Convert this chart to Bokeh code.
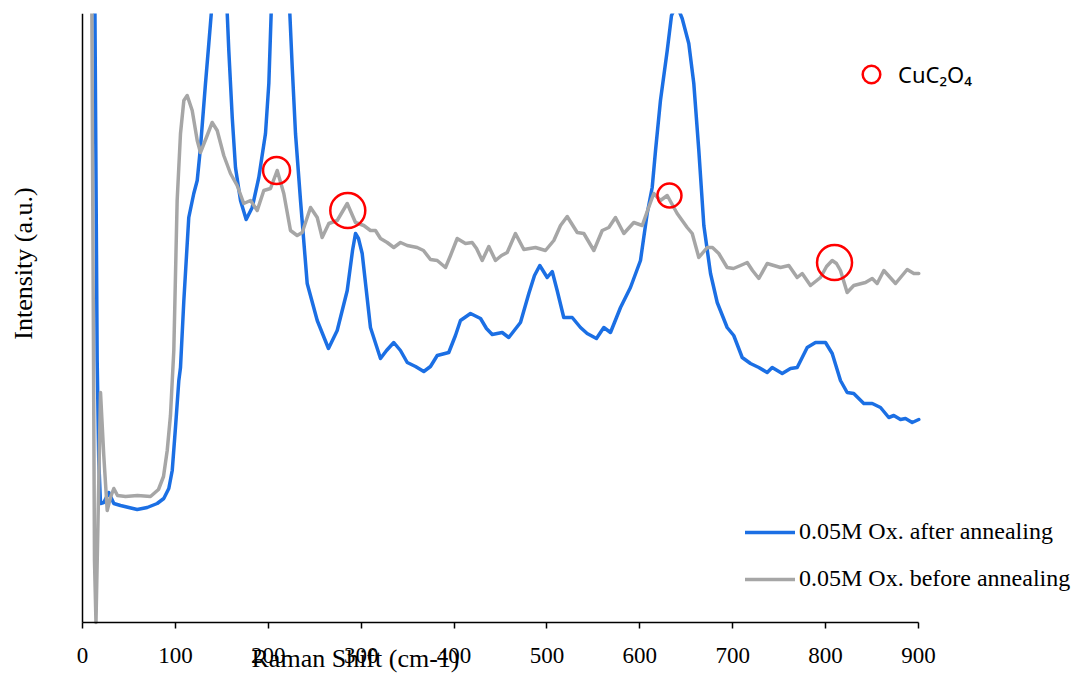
from bokeh.plotting import figure
from bokeh.models import Range1d, Label, Legend, LegendItem, FixedTicker
from bokeh.embed import file_html
from bokeh.resources import INLINE

# Raman shift (cm-1) and intensity (a.u.)
shift_after = [12.9, 15.8, 17.5, 19.4, 22.9, 28.3, 33.7, 40.9, 49.8, 58.9, 69.7, 80.4, 87.5, 92.9,
               96.6, 100.1, 103.7, 105.5, 109.1, 114.4, 119.8, 123.5, 127.0, 132.4, 136.0, 138.9,
               142.1, 147.0, 151.8, 155.8, 157.5, 161.2, 164.7, 170.1, 176.2, 182.7, 189.8, 197.0,
               200.6, 203.1, 206.7, 213.2, 219.6, 223.2, 225.8, 229.3, 234.7, 241.9, 252.7, 264.8,
               274.2, 285.0, 290.7, 293.9, 297.1, 301.1, 310.0, 320.8, 327.3, 335.1, 342.3, 349.6,
               358.5, 367.4, 374.6, 381.9, 394.3, 401.5, 406.9, 417.7, 428.5, 434.9, 441.1, 451.8,
               458.9, 471.5, 480.5, 486.6, 492.3, 500.3, 505.7, 511.0, 518.1, 527.2, 536.1, 543.3,
               553.3, 561.2, 568.4, 579.2, 589.9, 600.7, 607.9, 613.3, 616.9, 622.2, 629.5, 634.1,
               639.5, 645.6, 652.7, 658.1, 663.5, 668.9, 676.1, 683.3, 694.0, 701.1, 710.2, 719.1,
               728.1, 737.1, 742.5, 753.3, 762.2, 769.4, 780.2, 789.1, 799.9, 807.1, 816.0, 823.2,
               830.3, 841.1, 850.2, 859.1, 868.0, 873.4, 880.6, 886.0, 893.2, 900.3]
intensity_after = [682, 262, 162, 119, 120, 130, 119, 117, 115, 113, 115, 119, 124, 134,
                   152, 195, 242, 255, 322, 405, 429, 442, 475, 539, 579, 612,
                   667, 692, 667, 609, 572, 505, 455, 422, 403, 415, 445, 489,
                   539, 609, 672, 697, 672, 609, 555, 489, 422, 339, 302, 274,
                   292, 332, 372, 389, 384, 369, 295, 264, 272, 280, 272, 260,
                   256, 251, 256, 267, 270, 287, 302, 309, 304, 294, 288, 290,
                   285, 300, 329, 347, 357, 345, 351, 332, 305, 305, 295, 289,
                   284, 295, 290, 315, 335, 362, 409, 435, 472, 522, 572, 607,
                   618, 604, 579, 539, 472, 397, 349, 320, 295, 287, 265, 259,
                   255, 250, 255, 249, 254, 255, 275, 280, 280, 269, 242, 230,
                   229, 219, 219, 215, 205, 207, 203, 204, 200, 203]

shift_before = [9.7, 11.3, 12.9, 14.5, 16.7, 19.4, 22.9, 26.6, 30.1, 33.7, 37.7, 46.3, 59.2, 73.2,
                81.8, 87.2, 91.2, 94.7, 98.3, 101.9, 105.5, 109.1, 112.7, 118.1, 123.5, 127.0,
                134.2, 139.6, 145.0, 152.1, 159.3, 166.5, 173.6, 180.9, 188.1, 195.2, 202.4, 209.6,
                216.7, 223.9, 231.1, 236.5, 245.5, 252.7, 258.0, 265.2, 274.2, 285.0, 293.9, 302.8,
                310.0, 315.4, 320.8, 328.0, 335.1, 342.3, 349.6, 360.3, 367.1, 374.6, 381.9, 390.8,
                396.2, 403.4, 412.3, 419.5, 424.2, 430.3, 437.4, 444.6, 451.1, 457.2, 466.1, 475.1,
                487.7, 498.4, 507.4, 514.6, 521.8, 532.6, 539.7, 550.5, 559.5, 566.6, 573.8, 582.8,
                593.5, 602.6, 608.3, 615.0, 622.2, 629.5, 640.2, 651.0, 656.4, 663.5, 672.5, 678.2,
                685.0, 694.0, 700.8, 708.4, 715.6, 721.3, 728.1, 737.1, 751.4, 760.4, 769.4, 774.8,
                783.7, 794.5, 801.0, 807.1, 811.7, 816.0, 823.2, 830.3, 842.9, 850.2, 855.5, 862.7,
                875.3, 887.8, 895.0, 900.3]
intensity_before = [682, 372, 62, 0, 102, 230, 167, 112, 125, 134, 127, 126, 127, 126,
                    133, 146, 172, 207, 272, 422, 489, 522, 527, 512, 482, 470,
                    487, 500, 492, 467, 449, 437, 419, 422, 412, 432, 434, 452,
                    429, 392, 387, 390, 415, 405, 385, 399, 402, 419, 400, 397,
                    392, 392, 384, 380, 375, 380, 377, 375, 372, 363, 362, 355,
                    367, 384, 379, 380, 374, 362, 376, 362, 367, 370, 389, 373,
                    375, 372, 382, 397, 406, 390, 389, 372, 392, 395, 405, 389,
                    400, 397, 412, 429, 422, 427, 409, 395, 389, 365, 375, 375,
                    369, 355, 354, 357, 360, 352, 344, 359, 355, 357, 345, 349,
                    337, 345, 356, 362, 359, 352, 330, 337, 340, 344, 339, 352,
                    339, 353, 349, 349]

# CuC2O4 bands marked with circles
marker_shift = [208.9, 285.6, 631.9, 809.6]
marker_intensity = [452, 412, 427, 360]
marker_size = [27, 35, 24, 35]

x_ticks = [0, 100, 200, 300, 400, 500, 600, 700, 800, 900]
x_limits = (0, 900)
y_limits = (0, 609)

series_names = ["0.05M Ox. after annealing", "0.05M Ox. before annealing"]
marker_name = "CuC\u2082O\u2084"

# frame spans the canvas (except a thin top strip) so titles and legends are not clipped;
# the axes sit at fixed data locations and are bounded to the data limits
W, H, TOP = 1075, 675, 13
LEFT_PX, PLOT_W = 82, 836
ppu = PLOT_W / (x_limits[1] - x_limits[0])
x_start = x_limits[0] - LEFT_PX / ppu
x_end = x_limits[0] + (W - LEFT_PX) / ppu
y_start = y_limits[0] - (H - TOP - (y_limits[1] - y_limits[0]))

p = figure(width=W, height=H, output_backend="svg", toolbar_location=None,
           x_range=Range1d(x_start, x_end), y_range=Range1d(y_start, y_limits[1]),
           min_border_left=0, min_border_right=0, min_border_top=TOP, min_border_bottom=0)
p.outline_line_color = None
p.xgrid.visible = False
p.ygrid.visible = False
p.background_fill_color = "white"

# axes
xa = p.xaxis[0]
xa.fixed_location = y_limits[0]
xa.bounds = x_limits
xa.ticker = FixedTicker(ticks=x_ticks)
xa.axis_line_color = "black"
xa.axis_line_width = 1.5
xa.major_tick_line_color = "black"
xa.major_tick_line_width = 1.5
xa.major_tick_out = 6
xa.major_tick_in = 0
xa.minor_tick_line_color = None
xa.major_label_text_font = "Liberation Serif"
xa.major_label_text_font_size = "23px"
xa.major_label_text_color = "black"
xa.major_label_standoff = 19

ya = p.yaxis[0]
ya.fixed_location = x_limits[0]
ya.bounds = y_limits
ya.ticker = FixedTicker(ticks=[])
ya.axis_line_color = "black"
ya.axis_line_width = 1.5
ya.major_tick_line_color = None
ya.minor_tick_line_color = None
ya.major_label_text_font_size = "0px"

r_after = p.line(shift_after, intensity_after, line_color="#1B6FE4", line_width=3.5,
                 line_join="round", line_cap="round")
r_before = p.line(shift_before, intensity_before, line_color="#A6A6A6", line_width=3.5,
                  line_join="round", line_cap="round")
r_marks = p.scatter(marker_shift, marker_intensity, size=marker_size, marker="circle",
                    fill_color=None, line_color="#FF0000", line_width=2.5)

leg1 = Legend(items=[LegendItem(label=series_names[0], renderers=[r_after]),
                     LegendItem(label=series_names[1], renderers=[r_before])],
              location=(745, 83), orientation="vertical",
              background_fill_alpha=0, border_line_color=None, padding=0, margin=0,
              label_text_font="Liberation Serif", label_text_font_size="24px",
              label_text_color="black",
              glyph_width=50, glyph_height=24, label_height=24, label_standoff=4, spacing=20)
leg2 = Legend(items=[LegendItem(label=marker_name, renderers=[r_marks])],
              location=(849, 579), background_fill_alpha=0, border_line_color=None,
              padding=0, margin=0, label_text_font="Noto Sans", label_text_font_size="22px",
              label_text_color="black",
              glyph_width=44, glyph_height=44, label_height=44, label_standoff=5)
p.add_layout(leg1)
p.add_layout(leg2)

p.add_layout(Label(x=293.9, y=-36, text="Raman Shift (cm-1)", text_align="center",
                   text_baseline="alphabetic", text_font="Liberation Serif",
                   text_font_size="26px", text_color="black"))
p.add_layout(Label(x=-63.5, y=359, text="Intensity (a.u.)", angle=1.5707963,
                   text_align="center", text_baseline="middle", text_font="Liberation Serif",
                   text_font_size="26px", text_color="black"))

open("out.html", "w").write(file_html(p, INLINE))
